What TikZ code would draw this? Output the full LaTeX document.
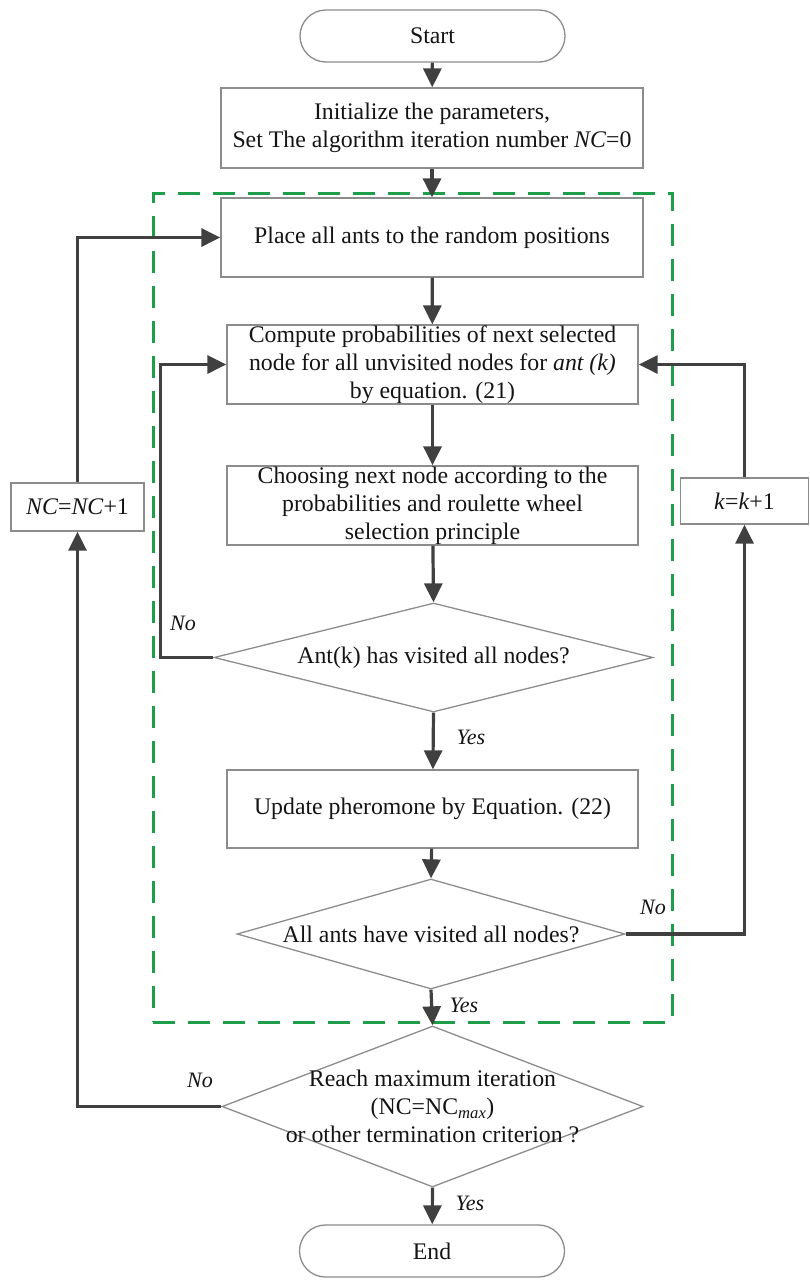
\documentclass[tikz,border=0pt]{standalone}
\usepackage{fontspec}
\setmainfont{Liberation Serif}
\usetikzlibrary{shapes.geometric,arrows.meta}
\definecolor{arr}{HTML}{404040}
\definecolor{bord}{HTML}{8C8C8C}
\definecolor{grn}{HTML}{1E9E4A}
\definecolor{ink}{HTML}{141414}
\begin{document}
\begin{tikzpicture}[x=1pt,y=-1pt,
 font=\fontsize{23.8}{28}\selectfont,
 box/.style={draw=bord,line width=1.3pt,rectangle,align=center,inner sep=0pt,text=ink},
 term/.style={box,rounded corners=26pt,minimum width=265pt,minimum height=52pt},
 dia/.style={draw=bord,line width=1.3pt,diamond,inner sep=0pt},
 txt/.style={align=center,inner sep=0pt,text=ink},
 lab/.style={font=\fontsize{22}{26}\selectfont\itshape,inner sep=0pt,text=ink},
 arrow/.style={draw=arr,line width=3.2pt,-{Triangle[length=19pt,width=18pt]}}]
\useasboundingbox (0,0) rectangle (809,1283);
% dashed frame
\node[draw=grn,line width=3pt,dash pattern=on 22pt off 13pt,minimum width=519pt,minimum height=829pt,inner sep=0pt] (frame) at (412.5,607.5) {};
% nodes
\node[term] (start) at (432.5,36) {Start};
\node[box,minimum width=422pt,minimum height=80pt] (init) at (432,128) {Initialize the parameters,\\Set The algorithm iteration number \textit{NC}=0};
\node[box,minimum width=422pt,minimum height=79pt] (place) at (432,237.5) {Place all ants to the random positions};
\node[box,minimum width=411pt,minimum height=79pt] (comp) at (432.5,364.5) {Compute probabilities of next selected\\node for all unvisited nodes for \textit{ant (k)}\\by equation. (21)};
\node[box,minimum width=411pt,minimum height=79pt] (choose) at (432.5,505.5) {Choosing next node according to the\\probabilities and roulette wheel\\selection principle};
\node[dia,minimum width=439pt,minimum height=109pt] (d1) at (433.5,657.5) {};
\node[txt] (d1t) at (d1.center) {Ant(k) has visited all nodes?};
\node[box,minimum width=411pt,minimum height=78pt] (upd) at (432.5,809) {Update pheromone by Equation. (22)};
\node[dia,minimum width=388pt,minimum height=110pt] (d2) at (431,934) {};
\node[txt] (d2t) at (d2.center) {All ants have visited all nodes?};
\node[dia,minimum width=421pt,minimum height=161pt] (d3) at (432.5,1106.5) {};
\node[txt] (d3t) at (d3.center) {Reach maximum iteration\\(NC=NC\textsubscript{\textit{max}})\\or other termination criterion ?};
\node[term] (end) at (432,1251) {End};
\node[box,minimum width=133pt,minimum height=48pt] (nc) at (77.5,507) {\textit{NC}=\textit{NC}+1};
\node[box,minimum width=128pt,minimum height=46pt] (kk) at (744.5,501) {\textit{k}=\textit{k}+1};
% main flow
\draw[arrow] (start) -- (init);
\draw[arrow] (init) -- (place);
\draw[arrow] (place) -- (comp);
\draw[arrow] (comp) -- (choose);
\draw[arrow] (choose) -- (d1.north);
\draw[arrow] (d1.south) -- (upd);
\draw[arrow] (upd) -- (d2.north);
\draw[arrow] (d2.south) -- (d3.north);
\draw[arrow] (d3.south) -- (end);
% loops
\draw[arrow] (d1.west) -- ++(-53,0) |- (comp.west);
\draw[arrow] (d2.east) -| (kk.south);
\draw[arrow] (kk.north) |- (comp.east);
\draw[arrow] (d3.west) -| (nc.south);
\draw[arrow] (nc.north) |- (place.west);
% labels
\node[lab] (l1) at (183,623) {No};
\node[lab] (l2) at (471,737) {Yes};
\node[lab] (l3) at (653,907) {No};
\node[lab] (l4) at (464,1005) {Yes};
\node[lab] (l5) at (200,1080) {No};
\node[lab] (l6) at (470,1203) {Yes};
\end{tikzpicture}
\end{document}
